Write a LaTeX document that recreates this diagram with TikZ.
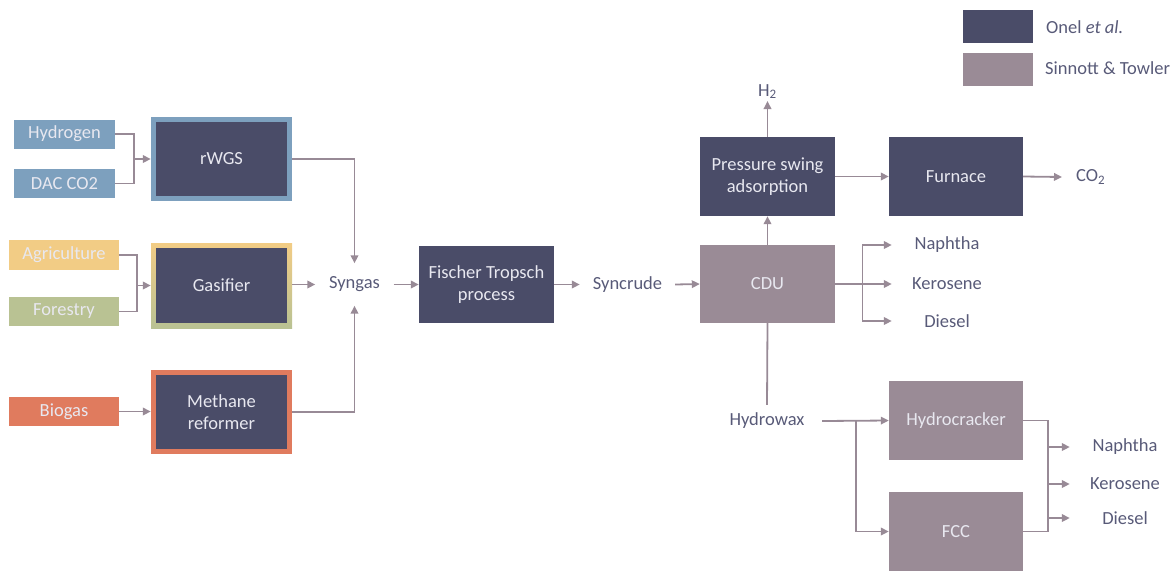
\documentclass[tikz,border=0pt]{standalone}
\usepackage{fontspec}
\setmainfont{Carlito}
\usetikzlibrary{arrows.meta}
\definecolor{darkbox}{RGB}{74,76,104}
\definecolor{mauve}{RGB}{154,139,150}
\definecolor{linec}{RGB}{152,138,150}
\definecolor{labelc}{RGB}{88,90,120}
\definecolor{boxtext}{RGB}{232,232,240}
\definecolor{inblue}{RGB}{125,160,190}
\definecolor{inyellow}{RGB}{242,204,133}
\definecolor{ingreen}{RGB}{185,194,147}
\definecolor{inorange}{RGB}{224,123,94}
\tikzset{
  every node/.style={font=\fontsize{18.5}{22}\selectfont},
  dbox/.style={fill=darkbox, text=boxtext, align=center, inner sep=0pt},
  mbox/.style={fill=mauve, text=boxtext, align=center, inner sep=0pt},
  inbox/.style={text=boxtext, inner sep=0pt, minimum width=101pt, minimum height=29pt},
  lbl/.style={text=labelc, inner sep=0pt, align=center},
  conn/.style={draw=linec, line width=1.8pt},
  arr/.style={conn, -{Triangle[length=8pt,width=7.5pt]}},
}
\begin{document}
\begin{tikzpicture}[x=1pt,y=-1pt]
\useasboundingbox (0,0) rectangle (1174,571);
% legend
\node[fill=darkbox, minimum width=70pt, minimum height=33pt, inner sep=0pt] (lg1) at (998,26.5) {};
\node[fill=mauve, minimum width=70pt, minimum height=33pt, inner sep=0pt] (lg2) at (998,69.5) {};
\node[lbl, anchor=west] (lt1) at (1046,27) {Onel \textit{et al.}};
\node[lbl, anchor=west] (lt2) at (1045,68) {Sinnott \& Towler};
% inputs
\node[inbox, fill=inblue] (hyd) at (64.5,134) {Hydrogen};
\node[inbox, fill=inblue] (dac) at (64.5,183.5) {DAC CO2};
\node[inbox, fill=inyellow, minimum width=110pt, minimum height=30pt] (agr) at (64,255) {Agriculture};
\node[inbox, fill=ingreen, minimum width=110pt] (for) at (64,311.5) {Forestry};
\node[inbox, fill=inorange, minimum width=110pt] (bio) at (64,411.5) {Biogas};
% first stage units
\node[fill=inblue, minimum width=141pt, minimum height=84pt, inner sep=0pt] (rwgs) at (221.5,159) {};
\node[dbox, minimum width=131pt, minimum height=74pt] (rwgsi) at (rwgs) {rWGS};
\node[top color=inyellow, bottom color=ingreen, minimum width=141pt, minimum height=85pt, inner sep=0pt] (gas) at (221.5,285.5) {};
\node[dbox, minimum width=131pt, minimum height=75pt] (gasi) at (gas) {Gasifier};
\node[fill=inorange, minimum width=141pt, minimum height=84pt, inner sep=0pt] (ref) at (221.5,412) {};
\node[dbox, minimum width=131pt, minimum height=74pt] (refi) at (ref) {Methane\\reformer};
% input connectors
\coordinate (ja) at (134,159);
\coordinate (jb) at (137,285.5);
\draw[conn] (hyd.east) -| (ja);
\draw[conn] (dac.east) -| (ja);
\draw[arr] (ja) -- (rwgs.west);
\draw[conn] (agr.east) -| (jb);
\draw[conn] (for.east) -| (jb);
\draw[arr] (jb) -- (gas.west);
\draw[arr] (bio.east) -- (bio.east -| ref.west);
% syngas and FT
\node[lbl, minimum width=78pt, minimum height=42pt] (syn) at (354.5,284.5) {Syngas};
\node[dbox, minimum width=135pt, minimum height=77pt] (ft) at (486.5,284.5) {Fischer Tropsch\\process};
\node[lbl, minimum width=95pt, minimum height=20pt] (sync) at (627.5,284.5) {Syncrude};
\draw[arr] (rwgs.east) -| (syn.north);
\draw[arr] (ref.east) -| (syn.south);
\draw[arr] (gas.east |- syn.west) -- (syn.west);
\draw[arr] (syn.east) -- (ft.west);
\draw[arr] (ft.east) -- (sync.west);
% CDU, PSA, furnace
\node[mbox, minimum width=135pt, minimum height=78pt] (cdu) at (767.5,284) {CDU};
\node[dbox, minimum width=135pt, minimum height=79pt] (psa) at (767.5,176.5) {Pressure swing\\adsorption};
\node[dbox, minimum width=134pt, minimum height=79pt] (fur) at (956,176.5) {Furnace};
\node[lbl, anchor=south, inner sep=2pt] (h2) at (767.5,101) {H\textsubscript{2}};
\node[lbl, anchor=west] (co2) at (1076,177) {CO\textsubscript{2}};
\draw[arr] (sync.east) -- (cdu.west);
\draw[arr] (cdu.north) -- (psa.south);
\draw[arr] (psa.north) -- (h2.south);
\draw[arr] (psa.east) -- (fur.west);
\draw[arr] (fur.east) -- ([xshift=-14pt]co2.west);
% CDU products
\node[lbl, minimum width=110pt] (n1) at (947,245) {Naphtha};
\node[lbl, minimum width=110pt] (k1) at (947,284) {Kerosene};
\node[lbl, minimum width=110pt] (d1) at (947,321) {Diesel};
\coordinate (jc) at (862.5,284);
\draw[arr] (cdu.east) -- (k1.west);
\draw[arr] (jc) |- (n1.west);
\draw[arr] (jc) |- (d1.west);
% hydrowax
\node[lbl, minimum width=110pt, minimum height=32pt] (hw) at (767,421) {Hydrowax};
\node[mbox, minimum width=134pt, minimum height=79pt] (hc) at (956,420.5) {Hydrocracker};
\node[mbox, minimum width=134pt, minimum height=79pt] (fcc) at (956,531.5) {FCC};
\draw[conn] (cdu.south) -- (hw.north);
\draw[arr] (hw.east) -- (hc.west);
\coordinate (jd) at (856,420.5);
\draw[arr] (jd) |- (fcc.west);
% second products
\node[lbl, minimum width=110pt] (n2) at (1125,447) {Naphtha};
\node[lbl, minimum width=110pt] (k2) at (1125,484) {Kerosene};
\node[lbl, minimum width=110pt] (d2) at (1125,518) {Diesel};
\coordinate (jt) at (1048,420.5);
\coordinate (jbm) at (1048,531.5);
\draw[conn] (hc.east) -- (jt) -- (jbm) -- (fcc.east);
\draw[arr] (n2.west -| jt) -- (n2.west);
\draw[arr] (k2.west -| jt) -- (k2.west);
\draw[arr] (d2.west -| jt) -- (d2.west);
\end{tikzpicture}
\end{document}
